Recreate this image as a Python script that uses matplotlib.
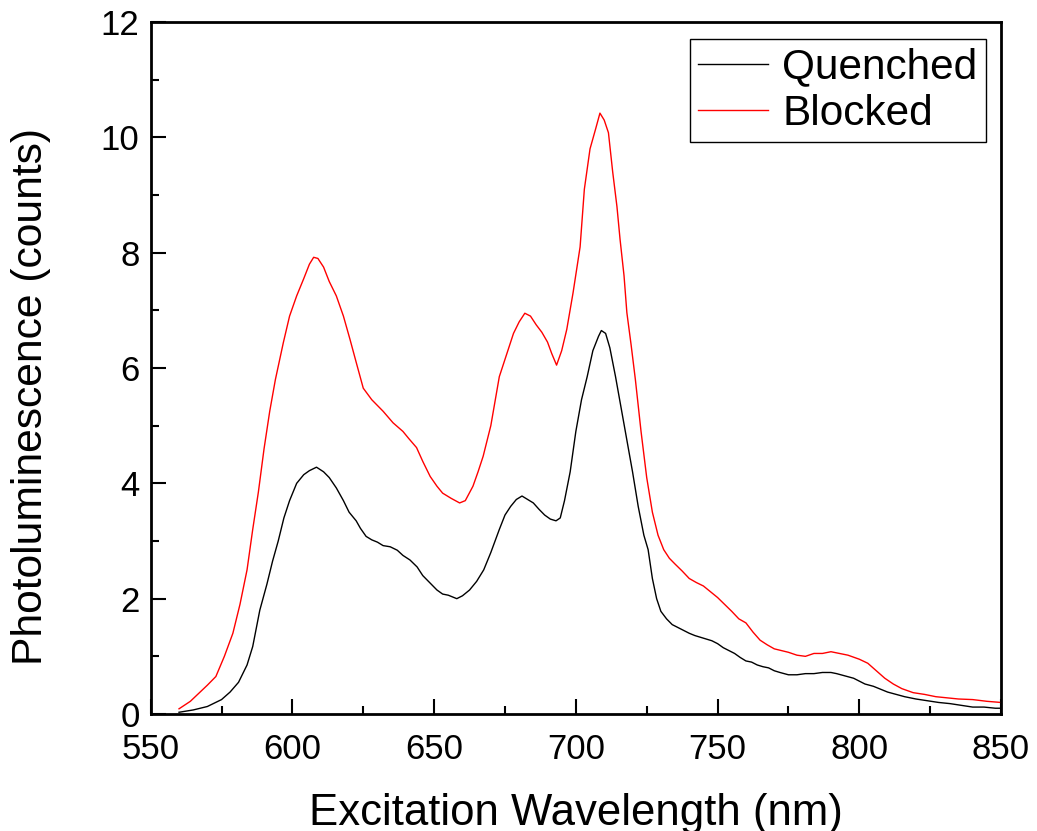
import matplotlib.pyplot as plt
from matplotlib.ticker import MultipleLocator

plt.rcParams['font.family'] = ['Liberation Sans', 'DejaVu Sans']

# espectro "Quenched" (negro)
wl_quenched = [560, 565, 570, 575, 578, 581, 584, 586, 588.5, 591, 593, 595, 597, 599, 601.5, 604,
               606, 608.5, 611, 613, 615.5, 618, 620, 622.5, 624, 626, 628, 630, 632, 634.5, 637,
               639, 641.5, 644, 646, 648, 651, 653, 655, 658, 660, 662.5, 665, 667.5, 670, 673, 675,
               677, 679, 681, 683, 685, 687, 689, 691, 693, 694.5, 696, 698, 700, 702, 704, 706,
               708, 709, 710.5, 712, 714, 716, 718, 720, 722, 724, 725.5, 727, 728.5, 730, 732,
               734, 736, 738, 740, 742, 744, 746, 748, 750, 752, 754, 756, 758, 760, 762, 764,
               766, 768, 770, 772, 775, 778, 781, 784, 787, 790, 792, 795, 798, 800, 802, 805,
               808, 810, 813, 816, 820, 824, 828, 832, 836, 840, 844, 848, 850]
pl_quenched = [0.03, 0.07, 0.13, 0.25, 0.38, 0.55, 0.85, 1.17, 1.8, 2.25, 2.65, 3.0, 3.4, 3.7, 4.0, 4.15,
               4.22, 4.28, 4.2, 4.1, 3.92, 3.7, 3.5, 3.35, 3.22, 3.08, 3.02, 2.98, 2.92, 2.9, 2.84,
               2.75, 2.67, 2.55, 2.4, 2.3, 2.15, 2.08, 2.06, 2.0, 2.05, 2.15, 2.3, 2.5, 2.8, 3.2, 3.45,
               3.6, 3.72, 3.78, 3.72, 3.66, 3.55, 3.45, 3.38, 3.35, 3.4, 3.7, 4.2, 4.9, 5.45, 5.85, 6.3,
               6.55, 6.65, 6.6, 6.35, 5.85, 5.3, 4.75, 4.2, 3.6, 3.1, 2.85, 2.35, 2.0, 1.78, 1.65,
               1.55, 1.5, 1.45, 1.4, 1.36, 1.33, 1.3, 1.27, 1.22, 1.15, 1.1, 1.05, 0.98, 0.92, 0.9,
               0.85, 0.82, 0.8, 0.75, 0.72, 0.68, 0.68, 0.7, 0.7, 0.72, 0.72, 0.7, 0.66, 0.62, 0.57,
               0.52, 0.48, 0.42, 0.38, 0.34, 0.3, 0.26, 0.23, 0.2, 0.18, 0.15, 0.12, 0.12, 0.1, 0.1]

# espectro "Blocked" (rojo), filas de 10 puntos
wl_blocked = [560, 564, 567, 570, 573, 576, 579, 581.5, 584, 586,
              588, 590, 592, 594, 596.8, 599, 601.5, 604, 606, 607.5,
              609, 611, 613, 615.5, 618, 620.3, 622.5, 625, 628, 632,
              635.5, 639, 641, 643.8, 646, 648.6, 651, 653, 656, 659,
              661, 663.7, 665.5, 667.3, 670, 673, 676, 678, 680, 682,
              684, 686, 688, 690, 691.5, 693.2, 695, 696.8, 699, 701.5,
              703, 705, 707, 708.5, 710, 711.5, 713, 714.5, 715.6, 717,
              718, 719.5, 721, 723, 725, 727, 729, 731, 733, 735,
              737.5, 740, 742.5, 745, 747.5, 750, 752.5, 755, 757.5, 760,
              762.5, 765, 767.5, 770, 772.5, 775, 778, 781, 784, 787,
              790, 793, 796, 800, 803, 806, 809, 812, 815, 819,
              823, 827, 831, 835, 840, 845, 850]
pl_blocked = [0.09, 0.22, 0.36, 0.5, 0.65, 1.0, 1.4, 1.9, 2.5, 3.2,
              3.85, 4.6, 5.25, 5.8, 6.44, 6.9, 7.25, 7.55, 7.8, 7.92,
              7.9, 7.75, 7.5, 7.25, 6.9, 6.5, 6.1, 5.65, 5.45, 5.25,
              5.05, 4.9, 4.78, 4.62, 4.38, 4.12, 3.95, 3.83, 3.74, 3.66,
              3.7, 3.95, 4.2, 4.47, 5.0, 5.85, 6.3, 6.6, 6.8, 6.95,
              6.9, 6.75, 6.62, 6.45, 6.25, 6.05, 6.3, 6.67, 7.3, 8.1,
              9.1, 9.8, 10.15, 10.42, 10.3, 10.08, 9.4, 8.8, 8.23, 7.6,
              6.96, 6.4, 5.8, 4.9, 4.1, 3.5, 3.1, 2.85, 2.7, 2.6,
              2.48, 2.35, 2.28, 2.22, 2.12, 2.02, 1.9, 1.78, 1.65, 1.58,
              1.42, 1.28, 1.2, 1.13, 1.1, 1.07, 1.02, 1.0, 1.05, 1.05,
              1.08, 1.05, 1.02, 0.95, 0.88, 0.75, 0.62, 0.52, 0.44, 0.37,
              0.34, 0.3, 0.28, 0.26, 0.25, 0.22, 0.2]

fig = plt.figure(figsize=(10.37, 8.31), dpi=100)
ax = fig.add_axes([0.1453, 0.1408, 0.82, 0.8327])

ax.plot(wl_quenched, pl_quenched, color='black', lw=1.0, label='Quenched')
ax.plot(wl_blocked, pl_blocked, color='red', lw=1.0, label='Blocked')

ax.set_xlim(550, 850)
ax.set_ylim(0, 12)
ax.xaxis.set_major_locator(MultipleLocator(50))
ax.xaxis.set_minor_locator(MultipleLocator(25))
ax.yaxis.set_major_locator(MultipleLocator(2))
ax.yaxis.set_minor_locator(MultipleLocator(1))
ax.tick_params(which='both', direction='in', top=False, right=False, width=1.5, labelsize=25)
ax.tick_params(axis='x', pad=14)
ax.tick_params(axis='y', pad=8)
ax.tick_params(which='major', length=11)
ax.tick_params(which='minor', length=6)
for s in ax.spines.values():
    s.set_linewidth(2)

ax.set_xlabel('Excitation Wavelength (nm)', fontsize=31.5, labelpad=19)
ax.set_ylabel('Photoluminescence (counts)', fontsize=30.7)
ax.yaxis.set_label_coords(-0.117, 0.459)

leg = ax.legend(loc='upper right', bbox_to_anchor=(0.9824, 0.9754), fontsize=30.5, frameon=True,
                fancybox=False, edgecolor='black', framealpha=1, handlelength=1.65,
                handletextpad=0.33, borderpad=0.2, labelspacing=0.15, borderaxespad=0)
leg.get_frame().set_linewidth(1)

fig.savefig('out.png', dpi=100)
